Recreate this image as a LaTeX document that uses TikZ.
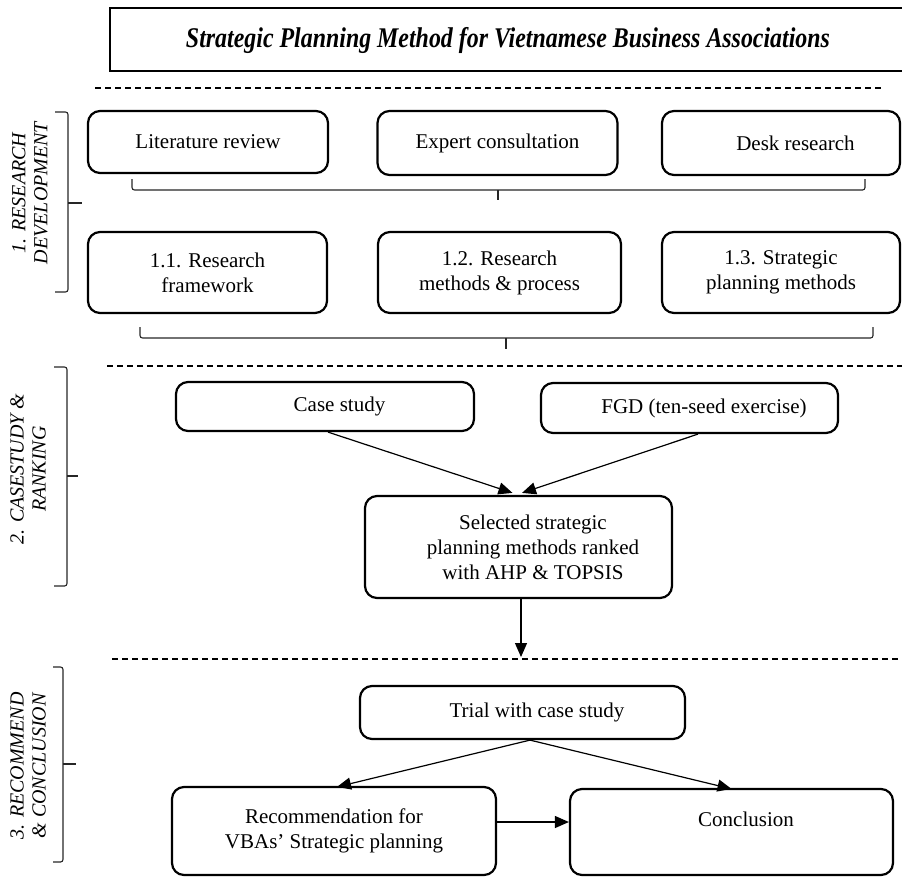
\documentclass[tikz,border=0pt]{standalone}
\usepackage{fontspec}
\setmainfont{Liberation Serif}
\usetikzlibrary{arrows.meta,calc}

\begin{document}
\begin{tikzpicture}[x=1pt,y=-1pt,
  box/.style={draw, line width=2.2pt, rounded corners=12pt, align=center,
    font=\fontsize{21}{25}\selectfont, inner sep=0pt},
  phase/.style={rotate=90, align=center, font=\fontsize{20}{22}\selectfont\itshape},
  sep/.style={line width=1.1pt, dash pattern=on 6pt off 4pt},
  brk/.style={line width=1.1pt, black!85, rounded corners=2.5pt},
  arr/.style={line width=1.2pt, -{Triangle[length=14pt,width=12pt]}},
  frame/.style={line width=2.4pt}
]
\useasboundingbox (0,0) rectangle (902,876);
\newcommand{\shiftr}{\hspace*{29pt}}

% title bar (open on the right)
\draw[frame] (905,8) -- (110,8) -- (110,71) -- (905,71);
\node (title) at (508,40) {\fontsize{28.5}{32}\selectfont\bfseries\itshape
  \resizebox{644pt}{\height}{Strategic Planning Method for Vietnamese Business Associations}};

% phase separators
\draw[sep] (95,88) -- (884,88);
\draw[sep] (107,366) -- (902,366);
\draw[sep] (112,659) -- (902,659);

% phase 1
\node[box, minimum width=240pt, minimum height=62pt] (lit)  at (208,142)   {Literature review};
\node[box, minimum width=240pt, minimum height=64pt] (exp)  at (497.5,143) {Expert consultation};
\node[box, minimum width=238pt, minimum height=64pt] (desk) at (781,143)   {\shiftr Desk research};
\node[box, minimum width=239pt, minimum height=81pt] (r11)  at (207.5,272.5) {1.1. Research\\framework};
\node[box, minimum width=243pt, minimum height=81pt] (r12)  at (499.5,272.5) {1.2. Research\\methods \& process};
\node[box, minimum width=238pt, minimum height=81pt] (r13)  at (781,272.5)   {1.3. Strategic\\planning methods};

\coordinate (b1l) at (132,179);
\coordinate (b1r) at (865,179);
\coordinate (b1t) at (498,200);
\draw[brk] (b1l) -- (b1l |- 0,190) -- (b1r |- 0,190) -- (b1r);
\draw[brk, rounded corners=0pt] (b1t |- 0,190) -- (b1t);

\coordinate (b2l) at (140,327);
\coordinate (b2r) at (873,327);
\coordinate (b2t) at (506,349);
\draw[brk] (b2l) -- (b2l |- 0,338) -- (b2r |- 0,338) -- (b2r);
\draw[brk, rounded corners=0pt] (b2t |- 0,338) -- (b2t);

% phase 2
\node[box, minimum width=298pt, minimum height=49pt] (case) at (325,406.5)  {\shiftr Case study};
\node[box, minimum width=297pt, minimum height=50pt] (fgd)  at (689.5,408)  {\shiftr FGD (ten-seed exercise)};
\node[box, minimum width=307pt, minimum height=102pt] (sel) at (518.5,547)
  {\shiftr Selected strategic\\\shiftr planning methods ranked\\\shiftr with AHP \& TOPSIS};

\draw[arr] ([xshift=3pt]case.south) -- ([xshift=-6pt,yshift=2pt]sel.north);
\draw[arr] ([xshift=8.5pt]fgd.south) -- ([xshift=3.5pt,yshift=2pt]sel.north);
\coordinate (down) at (521,657);
\draw[arr] (sel.south -| down) -- (down);

% phase 3
\node[box, minimum width=325pt, minimum height=53pt] (trial) at (522.5,712.5) {\shiftr Trial with case study};
\node[box, minimum width=324pt, minimum height=88pt] (rec)   at (334,831)
  {Recommendation for\\VBAs’ Strategic planning};
\node[box, minimum width=323pt, minimum height=86pt] (concl) at (731.5,832)
  {\shiftr Conclusion\\\mbox{}};

\draw[arr] ([xshift=7.5pt]trial.south) -- ([xshift=3pt,yshift=-1pt]rec.north);
\draw[arr] ([xshift=7.5pt]trial.south) -- ([yshift=-1pt]concl.north);
\draw[arr] ([yshift=9pt]rec.east) -- ([yshift=9pt]rec.east -| concl.west);

% phase braces and names
\draw[brk] (55,112) -- (68,112) -- (68,292) -- (55,292);
\draw[brk, rounded corners=0pt] (68,203) -- (82,203);
\node[phase] (ph1) at (30,193) {1. RESEARCH\\DEVELOPMENT};

\draw[brk] (54,367) -- (67,367) -- (67,586) -- (54,586);
\draw[brk, rounded corners=0pt] (67,476) -- (78,476);
\node[phase] (ph2) at (28,469) {2. CASESTUDY \&\\RANKING};

\draw[brk] (53,667) -- (63,667) -- (63,862) -- (53,862);
\draw[brk, rounded corners=0pt] (63,764) -- (76,764);
\node[phase] (ph3) at (28,766) {3. RECOMMEND\\\& CONCLUSION};
\end{tikzpicture}
\end{document}
